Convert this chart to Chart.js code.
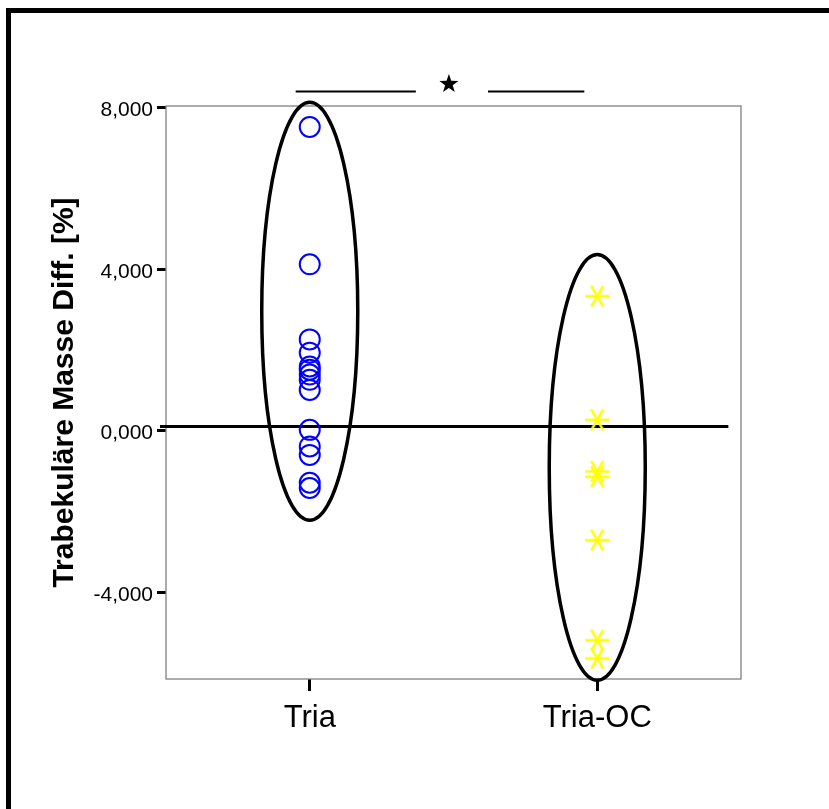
<!DOCTYPE html>
<html>
<head>
<meta charset="utf-8">
<script src="https://cdn.jsdelivr.net/npm/chart.js@4/dist/chart.umd.min.js"></script>
<style>
  html, body { margin: 0; padding: 0; background: #fff; }
  #wrap { position: relative; width: 829px; height: 809px; overflow: hidden; }
  #frame { position: absolute; left: 6px; top: 8px; width: 900px; height: 900px;
           border-left: 5px solid #000; border-top: 5px solid #000; pointer-events: none; }
</style>
</head>
<body>
<div id="wrap">
  <canvas id="c" width="829" height="809"></canvas>
  <div id="frame"></div>
</div>
<script>
// Groups and per-sample differences of trabecular mass (%)
const categories = ['Tria', 'Tria-OC'];
const triaValues = [7.52, 4.12, 2.26, 1.93, 1.59, 1.51, 1.39, 1.26, 1.01, 0.02, -0.39, -0.60, -1.29, -1.42];
const triaOcValues = [3.33, 0.27, -1.01, -1.14, -2.71, -5.19, -5.64];

// Y axis ticks and limits
const yTickValues = [-4, 0, 4, 8];
const yMin = -6.15;
const yMax = 8.04;

// Group ellipses (vertical extent in data units) and the horizontal reference level
const ellipseTop = [8.13, 4.36];
const ellipseBottom = [-2.22, -6.18];
const referenceLevel = 0.1;

const FONT = "'Liberation Sans', Arial, sans-serif";

// Asterisk marker: horizontal bar with two crossing diagonals
function asteriskMarker(color) {
  const c = document.createElement('canvas');
  c.width = 28; c.height = 26;
  const g = c.getContext('2d');
  g.strokeStyle = color;
  g.lineWidth = 2.5;
  const cx = 14, cy = 13, r = 12;
  [0, 60, 120].forEach(deg => {
    const t = deg * Math.PI / 180;
    g.beginPath();
    g.moveTo(cx - r * Math.cos(t), cy - r * Math.sin(t));
    g.lineTo(cx + r * Math.cos(t), cy + r * Math.sin(t));
    g.stroke();
  });
  return c;
}

function drawStar(ctx, cx, cy, R, r) {
  ctx.beginPath();
  for (let i = 0; i < 10; i++) {
    const rad = i % 2 === 0 ? R : r;
    const a = -Math.PI / 2 + i * Math.PI / 5;
    const px = cx + rad * Math.cos(a), py = cy + rad * Math.sin(a);
    if (i === 0) ctx.moveTo(px, py); else ctx.lineTo(px, py);
  }
  ctx.closePath();
  ctx.fill();
}

const overlay = {
  id: 'overlay',
  beforeDatasetsDraw(chart) {
    const { ctx, chartArea: a, scales: { x, y } } = chart;
    const step = x.getPixelForValue(1) - x.getPixelForValue(0);
    ctx.save();

    // plot frame
    ctx.strokeStyle = '#808080';
    ctx.lineWidth = 1.3;
    ctx.strokeRect(a.left, a.top, a.right - a.left, a.bottom - a.top);

    // group ellipses
    ctx.strokeStyle = '#000';
    ctx.lineWidth = 3.5;
    categories.forEach((c, i) => {
      const cx = x.getPixelForValue(i);
      const yt = y.getPixelForValue(ellipseTop[i]);
      const yb = y.getPixelForValue(ellipseBottom[i]);
      ctx.beginPath();
      ctx.ellipse(cx, (yt + yb) / 2, step * 0.167, (yb - yt) / 2, 0, 0, Math.PI * 2);
      ctx.stroke();
    });

    // reference line
    const yl = y.getPixelForValue(referenceLevel);
    ctx.lineWidth = 3;
    ctx.beginPath();
    ctx.moveTo(a.left - 6, yl);
    ctx.lineTo(x.getPixelForValue(1) + 0.456 * step, yl);
    ctx.stroke();

    // significance bracket with star
    const x0 = x.getPixelForValue(0);
    const yb = a.top - 14.5;
    ctx.lineWidth = 2;
    ctx.beginPath();
    ctx.moveTo(x0 - 0.049 * step, yb); ctx.lineTo(x0 + 0.369 * step, yb);
    ctx.moveTo(x0 + 0.62 * step, yb);  ctx.lineTo(x0 + 0.955 * step, yb);
    ctx.stroke();
    ctx.fillStyle = '#000';
    drawStar(ctx, x0 + 0.484 * step, a.top - 22, 10, 4);

    ctx.restore();
  }
};

new Chart(document.getElementById('c'), {
  type: 'scatter',
  data: {
    labels: categories,
    datasets: [
      {
        label: categories[0],
        data: triaValues.map(v => ({ x: categories[0], y: v })),
        pointStyle: 'circle',
        pointRadius: 10,
        borderWidth: 2,
        borderColor: '#0000ff',
        backgroundColor: 'rgba(0,0,0,0)'
      },
      {
        label: categories[1],
        data: triaOcValues.map(v => ({ x: categories[1], y: v })),
        pointStyle: asteriskMarker('#ffff00'),
        pointRadius: 12,
        borderColor: '#ffff00',
        backgroundColor: '#ffff00'
      }
    ]
  },
  options: {
    responsive: false,
    animation: false,
    events: [],
    layout: { padding: { top: 106, right: 88, left: 0, bottom: 0 } },
    plugins: { legend: { display: false }, tooltip: { enabled: false } },
    scales: {
      x: {
        type: 'category',
        labels: categories,
        offset: true,
        border: { display: false },
        grid: { offset: false, drawOnChartArea: false, drawTicks: true, tickLength: 12, tickWidth: 3, tickColor: '#000' },
        ticks: { color: '#000', padding: 9, font: { family: FONT, size: 31 } },
        afterFit(s) { s.height = 130; }
      },
      y: {
        min: yMin,
        max: yMax,
        border: { display: false },
        grid: { drawOnChartArea: false, drawTicks: true, tickLength: 9, tickWidth: 3, tickColor: '#000' },
        afterBuildTicks(s) { s.ticks = yTickValues.map(v => ({ value: v })); },
        ticks: {
          color: '#000',
          padding: 4,
          labelOffset: 3,
          font: { family: FONT, size: 21 },
          callback: v => v.toFixed(3).replace('.', ',')
        },
        title: {
          display: true,
          text: 'Trabekuläre Masse Diff. [%]',
          color: '#000',
          padding: { top: 47, bottom: 0 },
          font: { family: FONT, size: 30, weight: 'bold' }
        },
        afterFit(s) { s.width = 166; }
      }
    }
  },
  plugins: [overlay]
});
</script>
</body>
</html>
